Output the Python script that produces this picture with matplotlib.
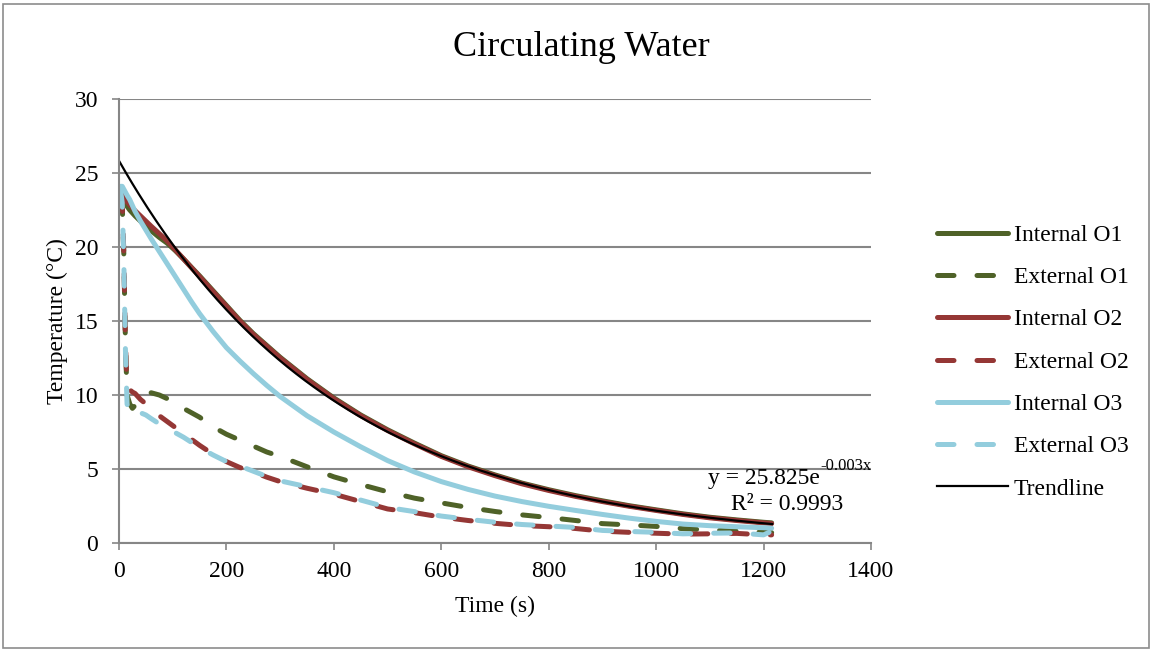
import numpy as np
import matplotlib
matplotlib.use("Agg")
import matplotlib.pyplot as plt
from matplotlib.patches import Rectangle

plt.rcParams['font.family'] = ['Liberation Serif', 'DejaVu Serif']

# ---------------- data ----------------
time_s = [3, 6, 9, 12, 15, 20, 25, 30, 40, 50, 60, 75, 90, 105, 120, 135, 150, 175,
          200, 225, 250, 275, 300, 350, 400, 450, 500, 550, 600, 650, 700, 750, 800,
          850, 900, 950, 1000, 1050, 1100, 1150, 1200, 1215]

internal_o1 = [23.3, 23.2, 23.05, 22.9, 22.75, 22.5, 22.3, 22.1, 21.75, 21.4, 21.1, 20.65,
               20.25, 19.75, 19.2, 18.62, 18.05, 17.05, 16.05, 15.05, 14.15, 13.35, 12.55,
               11.1, 9.8, 8.65, 7.65, 6.75, 5.9, 5.2, 4.6, 4.05, 3.6, 3.2, 2.85, 2.52,
               2.24, 1.97, 1.74, 1.56, 1.4, 1.36]
external_o1 = [23.3, 22.9, 19.5, 13.5, 10.0, 9.4, 9.1, 9.3, 9.8, 10.1, 10.15, 10.0, 9.75,
               9.4, 9.1, 8.8, 8.5, 7.85, 7.35, 6.95, 6.55, 6.15, 5.85, 5.15, 4.47, 3.95,
               3.46, 3.03, 2.71, 2.4, 2.13, 1.9, 1.72, 1.52, 1.31, 1.22, 1.12, 0.97, 0.88,
               0.8, 0.72, 0.7]
internal_o2 = [23.6, 23.5, 23.35, 23.2, 23.05, 22.85, 22.65, 22.45, 22.1, 21.75, 21.4,
               20.9, 20.4, 19.8, 19.2, 18.6, 18.0, 17.0, 16.0, 15.0, 14.1, 13.3, 12.5,
               11.05, 9.75, 8.6, 7.6, 6.7, 5.85, 5.15, 4.55, 4.0, 3.55, 3.15, 2.8, 2.48,
               2.2, 1.93, 1.7, 1.52, 1.36, 1.32]
external_o2 = [23.5, 23.2, 19.5, 13.5, 10.6, 10.35, 10.2, 10.1, 9.7, 9.4, 9.05, 8.6, 8.2,
               7.8, 7.4, 7.0, 6.6, 6.0, 5.5, 5.1, 4.8, 4.45, 4.15, 3.7, 3.3, 2.8, 2.3,
               2.05, 1.75, 1.52, 1.33, 1.18, 1.1, 0.98, 0.8, 0.72, 0.66, 0.6, 0.62, 0.65,
               0.55, 0.55]
internal_o3 = [24.1, 24.1, 23.9, 23.7, 23.5, 23.2, 22.8, 22.4, 21.75, 21.15, 20.55, 19.7,
               18.85, 18.0, 17.15, 16.3, 15.5, 14.3, 13.2, 12.3, 11.45, 10.65, 9.9, 8.6,
               7.5, 6.5, 5.57, 4.8, 4.15, 3.62, 3.17, 2.8, 2.48, 2.2, 1.93, 1.68, 1.46,
               1.28, 1.17, 1.1, 1.03, 1.0]
external_o3 = [23.8, 23.0, 19.0, 13.0, 9.4, 8.7, 8.7, 8.8, 8.8, 8.65, 8.4, 8.05, 7.7,
               7.45, 7.15, 6.8, 6.45, 5.95, 5.5, 5.2, 4.85, 4.5, 4.2, 3.8, 3.4, 2.9, 2.4,
               2.12, 1.82, 1.6, 1.4, 1.25, 1.15, 1.05, 0.85, 0.78, 0.72, 0.62, 0.66, 0.68,
               0.55, 0.8]

# exponential trendline (y = a * e^(b x)) as drawn in the chart
trend_a = 25.825
trend_b = -0.00247
trend_t_end = 1216

series_names = ["Internal O1", "External O1", "Internal O2", "External O2",
                "Internal O3", "External O3"]
x_ticks = [0, 200, 400, 600, 800, 1000, 1200, 1400]
y_ticks = [0, 5, 10, 15, 20, 25, 30]

# ---------------- figure ----------------
W, H = 1151, 652
fig = plt.figure(figsize=(W / 100, H / 100), dpi=100)
fig.patch.set_facecolor('white')

def fx(px):
    return px / W

def fy(py):
    return 1 - py / H

fig.add_artist(Rectangle((fx(3), fy(648)), fx(1149) - fx(3), fy(4) - fy(648),
                         transform=fig.transFigure, fill=False,
                         edgecolor='#8c8c8c', linewidth=1.2))

ax = fig.add_axes([fx(119), fy(543), fx(871) - fx(119), fy(99) - fy(543)])

green = '#4f6228'
red = '#953735'
blue = '#93cddd'
grid_c = '#868686'

lw = 3.6
dash = (3.3, 4.6)
series = [internal_o1, external_o1, internal_o2, external_o2, internal_o3, external_o3]
colors = [green, green, red, red, blue, blue]
for name, vals, c in zip(series_names, series, colors):
    if name.startswith("External"):
        ax.plot(time_s, vals, color=c, lw=lw, dashes=dash, dash_capstyle='round',
                solid_capstyle='round', label=name)
    else:
        ax.plot(time_s, vals, color=c, lw=lw, solid_capstyle='round',
                solid_joinstyle='round', label=name)

tt = np.linspace(0, trend_t_end, 300)
ax.plot(tt, trend_a * np.exp(trend_b * tt), color='black', lw=1.6, label='Trendline')

ax.set_xlim(0, 1400)
ax.set_ylim(0, 30)
ax.set_xticks(x_ticks)
ax.set_yticks(y_ticks)
ax.yaxis.grid(True, color=grid_c, lw=1.5)
ax.set_axisbelow(True)
for s in ['top', 'right']:
    ax.spines[s].set_visible(False)
for s in ['left', 'bottom']:
    ax.spines[s].set_color(grid_c)
    ax.spines[s].set_linewidth(1.5)
ax.tick_params(axis='both', colors=grid_c, labelcolor='black', labelsize=17,
               length=5, width=1.2, direction='out')
ax.tick_params(axis='y', pad=10)
ax.tick_params(axis='x', pad=8)

ax.set_xlabel('Time (s)', fontsize=17, labelpad=10)
ax.set_ylabel('Temperature (°C)', fontsize=17, labelpad=5)

fig.text(fx(581), fy(47), 'Circulating Water', fontsize=26, ha='center', va='center')

# trendline equation: base text + superscript exponent
fig.text(fx(820), fy(484), 'y = 25.825e', fontsize=17, ha='right', va='baseline')
fig.text(fx(820), fy(470), '-0.003x', fontsize=12, ha='left', va='baseline')
fig.text(fx(787), fy(510), 'R² = 0.9993', fontsize=17, ha='center', va='baseline')

fig.legend(loc='center left', bbox_to_anchor=(fx(937), fy(362)), frameon=False,
           fontsize=17, handlelength=3.0, handletextpad=0.25, labelspacing=0.88,
           borderpad=0, borderaxespad=0)

fig.savefig('out.png', dpi=100, facecolor='white')
